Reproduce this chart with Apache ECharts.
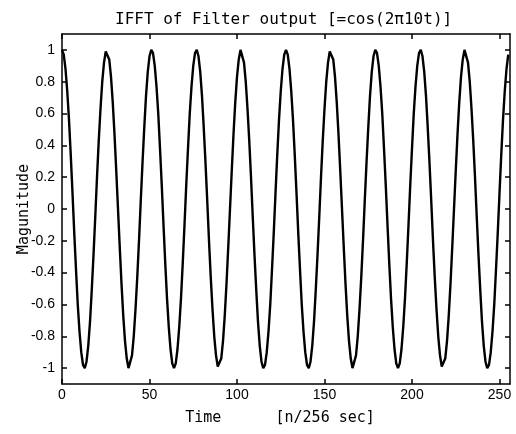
<!DOCTYPE html>
<html>
<head>
<meta charset="utf-8">
<script src="https://cdn.jsdelivr.net/npm/echarts@6/dist/echarts.min.js"></script>
<style>
html,body{margin:0;padding:0;background:#fff;}
#chart{width:516px;height:434px;}
</style>
</head>
<body>
<div id="chart"></div>
<script>
// Magnitude of IFFT output, samples n = 0..255
const magnitude = [
 1.00, 0.97, 0.88, 0.74, 0.56, 0.34, 0.10,-0.15,-0.38,-0.60,
-0.77,-0.90,-0.98,-1.00,-0.96,-0.86,-0.71,-0.51,-0.29,-0.05,
 0.20, 0.43, 0.63, 0.80, 0.92, 0.99, 1.00, 0.94, 0.83, 0.67,
 0.47, 0.24, 0.00,-0.24,-0.47,-0.67,-0.83,-0.94,-1.00,-0.99,
-0.92,-0.80,-0.63,-0.43,-0.20, 0.05, 0.29, 0.51, 0.71, 0.86,
 0.96, 1.00, 0.98, 0.90, 0.77, 0.60, 0.38, 0.15,-0.10,-0.34,
-0.56,-0.74,-0.88,-0.97,
-1.00,-0.97,-0.88,-0.74,-0.56,-0.34,-0.10, 0.15, 0.38, 0.60,
 0.77, 0.90, 0.98, 1.00, 0.96, 0.86, 0.71, 0.51, 0.29, 0.05,
-0.20,-0.43,-0.63,-0.80,-0.92,-0.99,-1.00,-0.94,-0.83,-0.67,
-0.47,-0.24, 0.00, 0.24, 0.47, 0.67, 0.83, 0.94, 1.00, 0.99,
 0.92, 0.80, 0.63, 0.43, 0.20,-0.05,-0.29,-0.51,-0.71,-0.86,
-0.96,-1.00,-0.98,-0.90,-0.77,-0.60,-0.38,-0.15, 0.10, 0.34,
 0.56, 0.74, 0.88, 0.97,
 1.00, 0.97, 0.88, 0.74, 0.56, 0.34, 0.10,-0.15,-0.38,-0.60,
-0.77,-0.90,-0.98,-1.00,-0.96,-0.86,-0.71,-0.51,-0.29,-0.05,
 0.20, 0.43, 0.63, 0.80, 0.92, 0.99, 1.00, 0.94, 0.83, 0.67,
 0.47, 0.24, 0.00,-0.24,-0.47,-0.67,-0.83,-0.94,-1.00,-0.99,
-0.92,-0.80,-0.63,-0.43,-0.20, 0.05, 0.29, 0.51, 0.71, 0.86,
 0.96, 1.00, 0.98, 0.90, 0.77, 0.60, 0.38, 0.15,-0.10,-0.34,
-0.56,-0.74,-0.88,-0.97,
-1.00,-0.97,-0.88,-0.74,-0.56,-0.34,-0.10, 0.15, 0.38, 0.60,
 0.77, 0.90, 0.98, 1.00, 0.96, 0.86, 0.71, 0.51, 0.29, 0.05,
-0.20,-0.43,-0.63,-0.80,-0.92,-0.99,-1.00,-0.94,-0.83,-0.67,
-0.47,-0.24, 0.00, 0.24, 0.47, 0.67, 0.83, 0.94, 1.00, 0.99,
 0.92, 0.80, 0.63, 0.43, 0.20,-0.05,-0.29,-0.51,-0.71,-0.86,
-0.96,-1.00,-0.98,-0.90,-0.77,-0.60,-0.38,-0.15, 0.10, 0.34,
 0.56, 0.74, 0.88, 0.97
];
const xTicks = [0, 50, 100, 150, 200, 250];
const yTicks = [-1, -0.8, -0.6, -0.4, -0.2, 0, 0.2, 0.4, 0.6, 0.8, 1];
const titleText = 'IFFT of Filter output [=cos(2\u03c010t)]';
const xName = 'Time      [n/256 sec]';
const yName = 'Magunitude';

const mono = '"DejaVu Sans Mono", "Liberation Mono", monospace';
const sans = '"Liberation Sans", Arial, sans-serif';
const lineStyle = { color: '#000', width: 1.5 };

const chart = echarts.init(document.getElementById('chart'), null, { renderer: 'canvas' });

const baseX = {
  type: 'value', min: 0, max: 256,
  axisLine: { show: true, onZero: false, lineStyle },
  splitLine: { show: false }
};
const baseY = {
  type: 'value', min: -1.1, max: 1.1,
  axisLine: { show: true, onZero: false, lineStyle },
  splitLine: { show: false }
};

chart.setOption({
  animation: false,
  backgroundColor: '#fff',
  title: {
    text: titleText, left: 110, top: 7,
    textStyle: { fontFamily: mono, fontSize: 16, fontWeight: 'normal', color: '#000' }
  },
  grid: { left: 62, right: 6, top: 34, bottom: 50, containLabel: false },
  xAxis: [
    Object.assign({}, baseX, {
      position: 'bottom',
      name: xName, nameLocation: 'middle', nameGap: 27, nameMoveOverlap: false,
      nameTextStyle: { fontFamily: mono, fontSize: 15, color: '#000', padding: [0, 12, 0, 0] },
      axisTick: { inside: true, length: 5, customValues: xTicks, lineStyle },
      axisLabel: { customValues: xTicks, margin: 4, fontFamily: sans, fontSize: 14, color: '#000' }
    }),
    Object.assign({}, baseX, {
      position: 'top',
      axisTick: { inside: true, length: 5, customValues: xTicks, lineStyle },
      axisLabel: { show: false }
    })
  ],
  yAxis: [
    Object.assign({}, baseY, {
      position: 'left',
      name: yName, nameLocation: 'middle', nameGap: 30, nameRotate: 90, nameMoveOverlap: false,
      nameTextStyle: { fontFamily: mono, fontSize: 15, color: '#000' },
      axisTick: { inside: true, length: 5, customValues: yTicks, lineStyle },
      axisLabel: { customValues: yTicks, margin: 7, fontFamily: sans, fontSize: 14, color: '#000' }
    }),
    Object.assign({}, baseY, {
      position: 'right',
      axisTick: { inside: true, length: 5, customValues: yTicks, lineStyle },
      axisLabel: { show: false }
    })
  ],
  series: [{
    type: 'line',
    xAxisIndex: 0, yAxisIndex: 0,
    data: magnitude.map((v, i) => [i, v]),
    showSymbol: false,
    smooth: false,
    lineStyle: { color: '#000', width: 2.4 },
    clip: true
  }]
});
</script>
</body>
</html>
